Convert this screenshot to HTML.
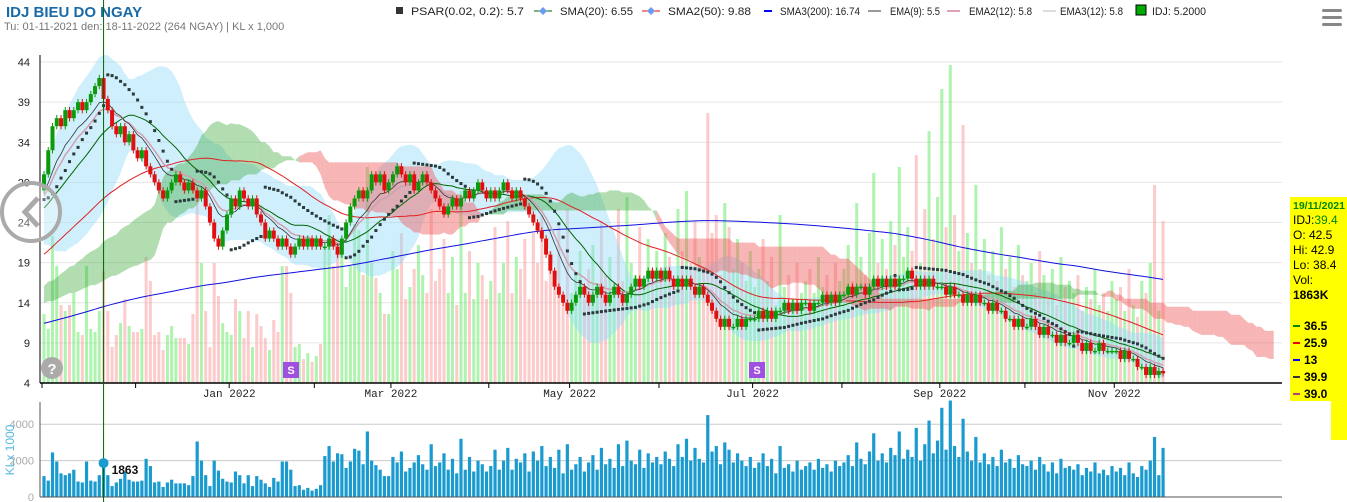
<!DOCTYPE html>
<html><head><meta charset="utf-8"><style>
body{margin:0;background:#fff;font-family:"Liberation Sans",sans-serif;}
#wrap{position:relative;width:1347px;height:502px;overflow:hidden;}
svg{position:absolute;left:0;top:0;}
</style></head><body><div id="wrap">
<svg id="c" width="1347" height="502" xmlns="http://www.w3.org/2000/svg">
<text x="6" y="17" font-size="15" font-weight="bold" fill="#1a6aa8">IDJ BIEU DO NGAY</text>
<text x="4" y="30" font-size="11" fill="#777">Tu: 01-11-2021 den: 18-11-2022 (264 NGAY) | KL x 1,000</text>
<g id="legend" font-size="11" fill="#222">
<rect x="396" y="7" width="7" height="7" fill="#333"/>
<text x="411" y="15" textLength="113" lengthAdjust="spacingAndGlyphs">PSAR(0.02, 0.2): 5.7</text>
<line x1="534" y1="11" x2="552" y2="11" stroke="#006400"/><path d="M543 7l4 4-4 4-4-4z" fill="#6a9cf0"/>
<text x="560" y="15" textLength="73" lengthAdjust="spacingAndGlyphs">SMA(20): 6.55</text>
<line x1="642" y1="11" x2="660" y2="11" stroke="#e00"/><path d="M651 7l4 4-4 4-4-4z" fill="#6a9cf0"/>
<text x="668" y="15" textLength="83" lengthAdjust="spacingAndGlyphs">SMA2(50): 9.88</text>
<line x1="764" y1="11" x2="772" y2="11" stroke="#00f" stroke-width="2"/>
<text x="780" y="15" textLength="80" lengthAdjust="spacingAndGlyphs">SMA3(200): 16.74</text>
<line x1="868" y1="11" x2="881" y2="11" stroke="#333"/>
<text x="890" y="15" textLength="50" lengthAdjust="spacingAndGlyphs">EMA(9): 5.5</text>
<line x1="947" y1="11" x2="960" y2="11" stroke="#c04070"/>
<text x="969" y="15" textLength="63" lengthAdjust="spacingAndGlyphs">EMA2(12): 5.8</text>
<line x1="1043" y1="11" x2="1056" y2="11" stroke="#ddd" stroke-width="2"/>
<text x="1060" y="15" textLength="63" lengthAdjust="spacingAndGlyphs">EMA3(12): 5.8</text>
<rect x="1136" y="5" width="10" height="10" fill="#0a0" stroke="#000"/>
<text x="1152" y="15" textLength="54" lengthAdjust="spacingAndGlyphs">IDJ: 5.2000</text>
</g>
<g id="plot"></g>
<g fill="#888"><rect x="1322" y="9" width="20" height="3" rx="1.5"/><rect x="1322" y="16" width="20" height="3" rx="1.5"/><rect x="1322" y="23" width="20" height="3" rx="1.5"/></g>
<g><circle cx="31" cy="212" r="29" fill="rgba(255,255,255,0.3)" stroke="#aaa" stroke-width="4"/><path d="M38 198l-13 14 13 14" fill="none" stroke="#aaa" stroke-width="5"/></g>
<g><circle cx="52" cy="368" r="11" fill="#aaa"/><text x="52" y="374" font-size="15" font-weight="bold" fill="#fff" text-anchor="middle">?</text></g>
<g>
<rect x="1290" y="197" width="57" height="204" fill="#ff0"/><rect x="1331" y="400" width="16" height="40" fill="#ff0"/>
<text x="1293" y="209" font-size="10.5" font-weight="bold" fill="#080">19/11/2021</text>
<text x="1293" y="224" font-size="12" fill="#000">IDJ:<tspan fill="#080">39.4</tspan></text>
<text x="1293" y="239" font-size="12" fill="#000">O: 42.5</text>
<text x="1293" y="254" font-size="12" fill="#000">Hi: 42.9</text>
<text x="1293" y="269" font-size="12" fill="#000">Lo: 38.4</text>
<text x="1293" y="284" font-size="12" fill="#000">Vol:</text>
<text x="1293" y="299" font-size="12" font-weight="bold" fill="#000">1863K</text>
<rect x="1293" y="325" width="7" height="2" fill="#080"/><text x="1304" y="330" font-size="12" font-weight="bold">36.5</text>
<rect x="1293" y="342" width="7" height="2" fill="#e00"/><text x="1304" y="347" font-size="12" font-weight="bold">25.9</text>
<rect x="1293" y="359" width="7" height="2" fill="#00f"/><text x="1304" y="364" font-size="12" font-weight="bold">13</text>
<rect x="1293" y="376" width="7" height="2" fill="#333"/><text x="1304" y="381" font-size="12" font-weight="bold">39.9</text>
<rect x="1293" y="393" width="7" height="2" fill="#c04070"/><text x="1304" y="398" font-size="12" font-weight="bold">39.0</text>
</g>
</svg></div>
<script>
// closes before the visible window (needed for moving averages)
const priorCloses=[8.5,8.6,8.4,8.3,8.5,8.7,8.6,8.4,8.2,8.3,
8.4,8.5,8.6,8.8,8.7,8.5,8.4,8.3,8.2,8.4,
8.5,8.6,8.7,8.9,9.0,8.8,8.6,8.5,8.4,8.3,
8.2,8.1,8.0,8.2,8.3,8.5,8.4,8.6,8.7,8.8,
8.6,8.5,8.4,8.3,8.5,8.6,8.7,8.5,8.4,8.3,
8.2,8.3,8.4,8.6,8.8,8.9,8.7,8.6,8.5,8.4,
8.3,8.2,8.1,8.3,8.4,8.5,8.6,8.4,8.3,8.2,
8.4,8.5,8.7,8.8,8.6,8.5,8.4,8.3,8.5,8.6,
8.7,8.9,9.0,8.8,8.7,8.5,8.4,8.3,8.2,8.3,
8.4,8.5,8.6,8.5,8.4,8.3,8.5,8.6,8.7,8.6,
8.5,8.4,8.3,8.4,8.5,8.6,8.8,8.7,8.6,8.5,
8.4,8.3,8.2,8.4,8.5,8.6,8.7,8.6,8.5,8.4,
8.3,8.4,8.5,8.7,8.8,8.9,8.7,8.6,8.5,8.4,
8.6,8.7,8.8,8.6,8.5,8.4,8.5,8.6,8.7,8.8,
8.9,9.0,9.2,9.1,9.3,9.5,9.4,9.6,9.8,10.0,
10.5,11,11.5,11,12,12.5,13,12.5,13.5,14,
14.5,14,15,15.5,16,15.5,16.5,17,16.5,17.5,
18,18.5,18,19,19.5,20,19.5,20.5,21,21.5,
22,21.5,22.5,23,23.5,24,23.5,24.5,25,25.5,
26,25.5,26.5,27,27.5,28,27,28.5,29,28];
const closes=[30,33,36,37,36,38,37,38,39,38,39,40,41,42,39.4,38,36,35,36,34,35,33,
32,33,31,30,29,28,27,28,29,30,29,28,29,28,27,28,26,24,22,21,23,25,
27,26,28,27,26,27,25,24,22,23,22,21,22,21,20,21,22,21,22,21,
22,21,21,22,21,20,22,24,26,27,28,27,28,30,29,30,28,29,
30,31,30,29,30,28,29,30,29,28,27,26,25,26,27,26,27,28,27,28,29,28,27,
28,27,28,29,28,27,28,27,26,25,24,23,22,20,18,16,15,14,13,
14,15,16,15,14,15,16,15,14,15,16,15,14,15,16,17,16,17,18,17,18,
17,18,17,16,17,16,17,16,15,16,15,14,13,12,11,12,11,11,12,11,12,12,
12,13,12,13,12,13,13,14,13,14,13,14,14,13,14,14,15,14,15,14,15,
15,16,15,16,16,15,16,17,16,17,16,17,16,17,17,18,17,16,17,16,17,16,16,
16,15,16,15,15,14,15,14,15,14,14,13,14,13,13,12,12,11,12,11,
11,12,11,10,11,10,10,9,10,9,9,10,9,8,9,8,8,9,8,8,8,
8,7,8,7,7,6,6,5,6,5,5.5,5.2];
const volumes=[1150,900,2450,1950,1300,1200,1300,1500,850,800,1950,900,850,1200,1863,1200,600,800,1000,1400,950,850,
850,900,2100,1700,800,850,550,800,950,750,750,750,650,1150,3050,2000,1200,600,2000,1450,1000,850,
800,1400,1200,750,1200,600,1150,950,750,550,1050,850,1950,1950,1500,600,650,400,500,350,
450,650,2250,2800,1950,2400,2350,1600,1950,2650,2550,1800,3600,2000,1750,1500,1150,1150,
2200,1900,2500,1400,1600,1900,2300,1800,1500,2900,1700,1900,2400,1500,2100,1300,3200,1500,2200,1400,2000,1800,1400,
1700,2600,1500,2000,2700,1500,2100,1900,2400,1400,2500,2000,2800,1700,2200,1600,2600,1300,2900,
1500,1800,2200,1400,1900,2300,1500,2700,1800,2100,1600,2900,1700,3100,2000,1800,2600,1600,2400,1900,2200,
1800,2500,2100,1700,2900,2200,3200,2000,2700,2100,1900,4500,2500,2800,1800,3000,2600,1900,2400,2000,1700,2200,
1600,1900,2400,1700,2100,1300,2800,1600,1800,1400,2000,1500,1700,1900,1500,2100,1600,1800,1400,2000,1700,
1900,2300,1700,3000,2100,1800,2500,3500,2000,2400,1900,2700,2300,3600,2100,2600,2200,3800,2000,2900,4200,2400,3100,
4900,2600,5300,2800,2200,4300,2500,2000,3300,1900,2400,1800,2200,1700,2600,1900,2100,1600,2300,1800,
1700,2000,1500,2200,1800,1400,1900,1300,2100,1600,1700,1500,1800,1200,1600,1400,1900,1300,1500,1200,1700,
1400,1600,1200,1900,1300,1100,1700,1500,2000,3300,1200,2700];
const priceTicks=[44,39,34,29,24,19,14,9,4];
const volTicks=[0,2000,4000];
const monthLabels=["Jan 2022","Mar 2022","May 2022","Jul 2022","Sep 2022","Nov 2022"];
const monthStartIdx=[0,22,44,64,82,105,124,145,167,188,211,231,252];
const labelMonthIdx=[2,4,6,8,10,12];

const NS="http://www.w3.org/2000/svg";
const plot=document.getElementById('plot');
const N=closes.length, L=40, R=1282, P=priorCloses.length;
const all=priorCloses.concat(closes);
const xs=i=>44+i*4.255;
const yp=v=>383-(v-4)*8.025;
const yv=v=>497-v*0.0182;
const yov=v=>383-v*0.06;
function mk(tag,attrs,parent){const e=document.createElementNS(NS,tag);for(const k in attrs)e.setAttribute(k,attrs[k]);(parent||plot).appendChild(e);return e;}
const allOpen=all.map((c,i)=>i?all[i-1]:c);
const allHigh=all.map((c,i)=>Math.max(c,allOpen[i])+0.4);
const allLow=all.map((c,i)=>Math.min(c,allOpen[i])-0.4);
const opens=allOpen.slice(P), highs=allHigh.slice(P), lows=allLow.slice(P);

priceTicks.forEach(t=>{
 const g=mk('line',{x1:L,x2:R,y1:yp(t),y2:yp(t),stroke:'#e6e6e6'});
 
 
 const tx=mk('text',{x:30,y:yp(t)+4,'font-size':11,'text-anchor':'end',fill:'#222'});tx.textContent=t;
 
 
});
volumes.forEach((v,i)=>{
 const up=closes[i]>=opens[i];
 const b=mk('rect',{x:xs(i)-1.5,y:yov(v),width:3,height:383-yov(v),fill:up?'rgba(120,235,120,0.6)':'rgba(250,160,160,0.55)'});
 
 
});
function sma(n){const r=[];for(let i=P;i<all.length;i++){let t=0;for(let j=i-n+1;j<=i;j++)t+=all[j];r.push(t/n);}return r;}
function ema(n){const k=2/(n+1);let e=all[0];const r=all.map(c=>e=c*k+e*(1-k));return r.slice(P);}
const m20=sma(20);
const bbU=[],bbL=[];
m20.forEach((m,i)=>{const g=i+P;let v=0;for(let j=g-19;j<=g;j++)v+=(all[j]-m)**2;const sd=Math.sqrt(v/20);bbU.push(m+2*sd);bbL.push(m-2*sd);});
let bp='M'+bbU.map((v,i)=>xs(i)+','+yp(v)).join('L')+'L'+bbL.map((v,i)=>xs(i)+','+yp(v)).reverse().join('L')+'Z';
const bb=mk('path',{d:bp,fill:'rgba(150,220,250,0.45)'});


function mid(n,g){let h=-1e9,l=1e9;for(let j=g-n+1;j<=g;j++){h=Math.max(h,allHigh[j]);l=Math.min(l,allLow[j]);}return (h+l)/2;}
// cloud drawn from index -26 (prior) to N-1, shifted forward 26
for(let i=-26;i<N-1;i++){
 const g=i+P;
 const a0=(mid(9,g)+mid(26,g))/2,a1=(mid(9,g+1)+mid(26,g+1))/2,b0=mid(52,g),b1=mid(52,g+1);
 const xa=xs(i+26),xb=xs(i+27);
 const p=mk('path',{d:`M${xa},${yp(a0)}L${xb},${yp(a1)}L${xb},${yp(b1)}L${xa},${yp(b0)}Z`,fill:a0>=b0?'rgba(60,170,60,0.4)':'rgba(240,90,90,0.45)',stroke:'none'});
 
 
}
function line(arr,col,w,name){const p=mk('path',{d:'M'+arr.map((v,i)=>xs(i)+','+yp(v)).join('L'),fill:'none',stroke:col,'stroke-width':w});
 
 }
line(sma(200),'#1010e0',1,'sma200-line');
line(sma(50),'#e02020',1,'sma50-line');
line(m20,'#006400',1,'sma20-line');
line(ema(12),'#d0a0b0',1.5,'ema2-12-line');
line(ema(9),'#333',0.8,'ema9-line');
(function(){let up=true,af=0.02,ep=allHigh[P-40],sar=allLow[P-40];
for(let g=P-39;g<all.length;g++){sar=sar+af*(ep-sar);
 if(up){if(allLow[g]<sar){up=false;sar=ep;ep=allLow[g];af=0.02;}else if(allHigh[g]>ep){ep=allHigh[g];af=Math.min(0.2,af+0.02);}}
 else{if(allHigh[g]>sar){up=true;sar=ep;ep=allHigh[g];af=0.02;}else if(allLow[g]<ep){ep=allLow[g];af=Math.min(0.2,af+0.02);}}
 if(g<P)continue;
 const d=mk('rect',{x:xs(g-P)-1.5,y:yp(sar)-1.5,width:3,height:3,fill:'#2a3a3a'});
 
 }})();
closes.forEach((c,i)=>{const o=opens[i],up=c>=o,col=up?'#0a9a0a':'#e01010';
 const g=mk('g',{});
 
 
 mk('line',{x1:xs(i),x2:xs(i),y1:yp(highs[i]),y2:yp(lows[i]),stroke:col},g);
 const t=Math.max(yp(c),yp(o)),top=Math.min(yp(c),yp(o));
 mk('rect',{x:xs(i)-2,y:top,width:4,height:Math.max(1.5,t-top),fill:col},g);});
mk('line',{x1:L,x2:L,y1:55,y2:383,stroke:'#000'});
mk('line',{x1:L,x2:R,y1:383,y2:383,stroke:'#000','stroke-width':1.5});
monthStartIdx.forEach(mi=>{const x=xs(mi)-2;mk('line',{x1:x,x2:x,y1:383,y2:388,stroke:'#000'});});
labelMonthIdx.forEach((mi,k)=>{const t=mk('text',{x:xs(monthStartIdx[mi])-2,y:397,'font-size':11,'text-anchor':'middle','font-family':'Liberation Mono,monospace',fill:'#222'});t.textContent=monthLabels[k];
 
 });
[[291,'s-marker-1'],[757,'s-marker-2']].forEach(([x,n])=>{const g=mk('g',{});
 
 
 mk('rect',{x:x-8,y:362,width:16,height:16,fill:'#a050e0'},g);const t=mk('text',{x:x,y:374,'font-size':11,'font-weight':'bold',fill:'#fff','text-anchor':'middle'},g);t.textContent='S';});
volTicks.forEach(t=>{if(t)mk('line',{x1:L,x2:R,y1:yv(t),y2:yv(t),stroke:'#ccc'});
 const tx=mk('text',{x:34,y:yv(t)+4,'font-size':11,'text-anchor':'end',fill:'#aaa'});tx.textContent=t;
 
 });
volumes.forEach((v,i)=>{const b=mk('rect',{x:xs(i)-1.6,y:yv(v),width:3.2,height:497-yv(v),fill:'#1a9bd0'});
 
 });
mk('line',{x1:L,x2:L,y1:402,y2:497,stroke:'#555'});
mk('line',{x1:L,x2:R,y1:497,y2:497,stroke:'#555'});
const yt=mk('text',{x:14,y:450,'font-size':12,fill:'#5ab8e0','text-anchor':'middle',transform:'rotate(-90 14 450)'});yt.textContent='KLx 1000';


const cx=xs(14);
const ch=mk('line',{x1:cx,x2:cx,y1:0,y2:502,stroke:'#006400'});


mk('circle',{cx:cx,cy:yv(volumes[14]),r:5,fill:'#1a9bd0'});
const vt=mk('text',{x:cx+8,y:yv(volumes[14])+11,'font-size':12,'font-weight':'bold',fill:'#111'});vt.textContent=volumes[14];


</script></body></html>
